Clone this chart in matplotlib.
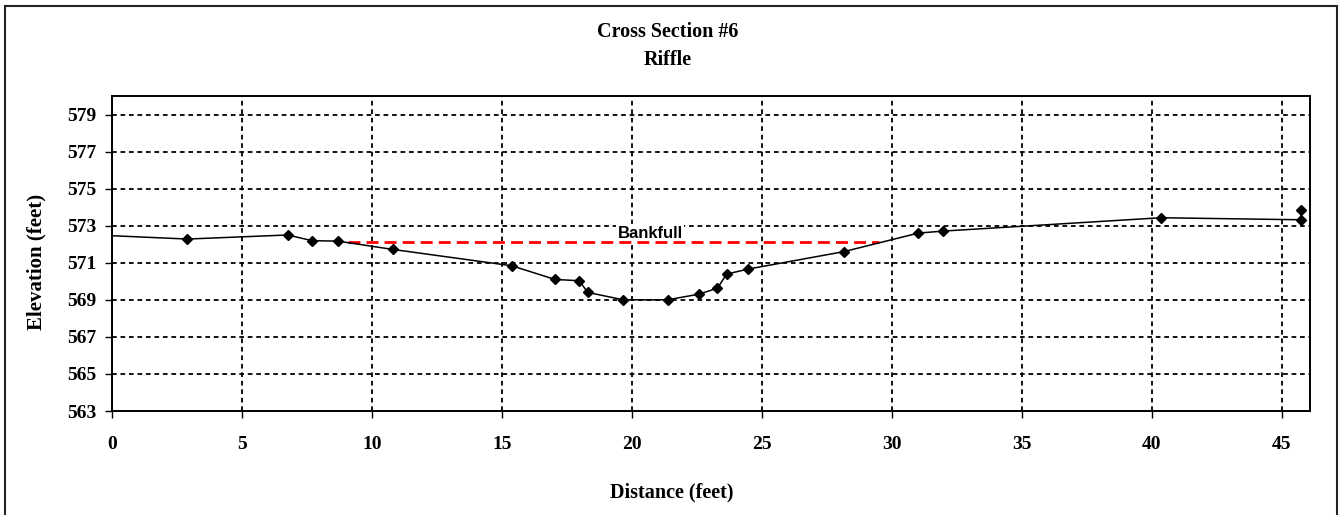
import matplotlib
matplotlib.use("Agg")
import matplotlib.pyplot as plt
from matplotlib.patches import Rectangle

distance = [0, 2.9, 6.76, 7.7, 8.68, 10.8, 15.37, 17.04, 17.97, 18.3, 19.67, 21.37,
            22.59, 23.29, 23.64, 24.47, 28.15, 31.01, 31.97, 40.35, 45.73, 45.73]
elevation = [572.46, 572.28, 572.5, 572.19, 572.17, 571.72, 570.84, 570.10, 570.03, 569.40,
             569.0, 569.0, 569.31, 569.63, 570.39, 570.66, 571.6, 572.6, 572.71, 573.43,
             573.32, 573.86]
bankfull_x = [9.08, 29.5]
bankfull_y = [572.1, 572.1]
x_ticks = [0, 5, 10, 15, 20, 25, 30, 35, 40, 45]
y_ticks = [563, 565, 567, 569, 571, 573, 575, 577, 579]

serif = ["Liberation Serif", "DejaVu Serif"]
sans = ["Liberation Sans", "DejaVu Sans"]

fig = plt.figure(figsize=(13.41, 5.15), dpi=100)
ax = fig.add_axes([112/1341, 1-411/515, (1310-112)/1341, (411-96)/515])

ax.set_xlim(0, 46.08)
ax.set_ylim(563, 580)
ax.set_xticks(x_ticks)
ax.set_yticks(y_ticks)
ax.grid(True, color="black", linestyle=(0, (2.6, 2.1)), linewidth=1.3)
ax.set_axisbelow(True)

ax.plot(bankfull_x, bankfull_y, color="#ff0000", linewidth=2.0, linestyle=(0, (4.3, 2.2)), zorder=3)
ax.plot(distance, elevation, color="black", linewidth=1.1, marker="D", markersize=5,
        markevery=list(range(1, len(distance))), zorder=4)
ax.text(20.7, 572.6, "Bankfull", family=sans, fontweight="bold", fontsize=12,
        ha="center", va="center", zorder=2,
        bbox=dict(facecolor="white", edgecolor="none", pad=1))

for s in ax.spines.values():
    s.set_color("black")
    s.set_linewidth(1.4)

ax.tick_params(axis="y", direction="out", length=5, width=1, pad=6)
ax.tick_params(axis="x", direction="out", length=5, width=1, pad=13)
for lab in ax.get_xticklabels() + ax.get_yticklabels():
    lab.set_family(serif)
    lab.set_fontweight("bold")
    lab.set_fontsize(14)

fig.text(668/1341, 1-32/515, "Cross Section #6", family=serif, fontweight="bold",
         fontsize=14.5, ha="center", va="center")
fig.text(668/1341, 1-60/515, "Riffle", family=serif, fontweight="bold",
         fontsize=14.5, ha="center", va="center")
fig.text(36/1341, 1-262/515, "Elevation (feet)", family=serif, fontweight="bold",
         fontsize=15, ha="center", va="center", rotation=90)
fig.text(672/1341, 1-492/515, "Distance (feet)", family=serif, fontweight="bold",
         fontsize=14.5, ha="center", va="center")

fig.patches.append(Rectangle((5/1341, -0.05), (1337-5)/1341, 1.05 - 6/515,
                             transform=fig.transFigure, fill=False,
                             edgecolor="#222222", linewidth=1.5))

fig.savefig("out.png", dpi=100)
